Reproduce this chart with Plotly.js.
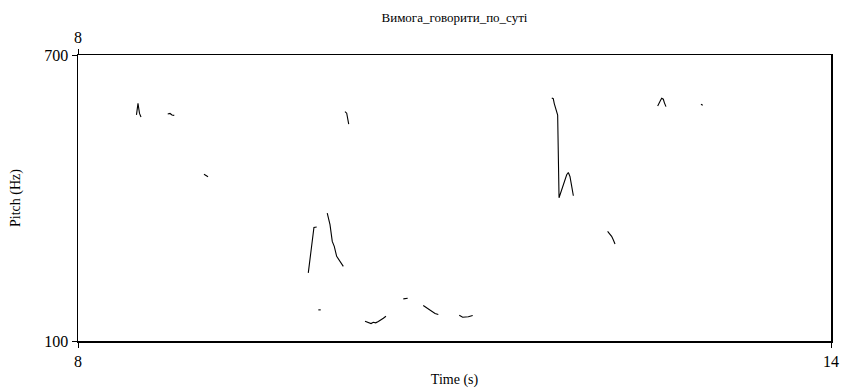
<!DOCTYPE html>
<html>
<head>
<meta charset="utf-8">
<script src="https://cdn.plot.ly/plotly-3.0.1.min.js"></script>
<style>html,body{margin:0;padding:0;background:#fff;}#chart{width:842px;height:388px;}</style>
</head>
<body>
<div id="chart"></div>
<script>
// Pitch contour (time in s, pitch in Hz); null separates voiced stretches
const timeS = [
  8.466, 8.478, 8.490, 8.502, null,
  8.715, 8.733, 8.749, 8.767, null,
  9.004, 9.020, 9.036, null,
  9.835, 9.854, 9.870, 9.880, 9.902, null,
  9.915, 9.934, null,
  9.986, 10.008, 10.026, 10.042, 10.061, 10.088, 10.114, null,
  10.127, 10.141, 10.157, null,
  10.287, 10.313, 10.335, 10.353, 10.372, 10.393, 10.414, 10.433, 10.454, null,
  10.592, 10.627, null,
  10.751, 10.778, 10.813, 10.845, 10.871, null,
  11.038, 11.065, 11.110, 11.145, null,
  11.775, 11.787, 11.795, 11.809, 11.822, 11.833, 11.854, 11.875, 11.894, 11.907, 11.920, 11.934, 11.947, null,
  12.220, 12.252, 12.265, 12.279, null,
  12.619, 12.629, 12.643, 12.651, 12.664, 12.672, 12.685, null,
  12.964, 12.978
];
const pitchHz = [
  574.3, 598.4, 577.4, 570.1, null,
  576.4, 577.4, 574.3, 573.3, null,
  449.7, 446.6, 444.5, null,
  242.8, 281.1, 323.0, 338.3, 339.1, null,
  165.3, 165.3, null,
  368.5, 344.0, 309.0, 298.5, 277.6, 267.1, 256.6, null,
  581.2, 577.9, 554.8, null,
  141.5, 138.1, 136.6, 139.4, 138.1, 140.8, 143.6, 147.7, 151.9, null,
  188.4, 189.6, null,
  174.3, 169.5, 162.4, 157.6, 155.5, null,
  154.0, 149.8, 150.7, 153.4, null,
  609.9, 608.4, 598.0, 584.2, 573.7, 400.5, 417.3, 434.6, 448.7, 453.5, 445.1, 424.2, 404.7, null,
  329.9, 319.5, 312.5, 303.5, null,
  593.2, 600.1, 605.7, 609.3, 607.2, 600.1, 591.7, null,
  596.7, 594.6
];
const xTicks = [8, 14];
const yTicks = [100, 700];
const topTicks = [8];
const titleText = "Вимога_говорити_по_суті";

const font = "Liberation Serif, Times New Roman, serif";
const trace = {
  x: timeS, y: pitchHz, type: "scatter", mode: "lines",
  connectgaps: false,
  line: {color: "#000", width: 1.1},
  hoverinfo: "skip", showlegend: false
};
const ghost = {x: [8, 14], y: [100, 100], xaxis: "x2", yaxis: "y", mode: "lines",
  line: {width: 0}, hoverinfo: "skip", showlegend: false};

const layout = {
  width: 842, height: 388,
  margin: {l: 78, r: 11, t: 55, b: 47, pad: 0},
  paper_bgcolor: "#fff", plot_bgcolor: "#fff",
  font: {family: font, color: "#000", size: 14},
  title: {text: titleText, font: {family: font, size: 13, color: "#000"},
    x: 0.5, xref: "paper", xanchor: "center", y: 1 - 17/388, yref: "container", yanchor: "middle"},
  xaxis: {
    range: [8, 14], tickvals: xTicks, ticktext: xTicks.map(String),
    showgrid: false, zeroline: false, showline: true, linecolor: "#000", linewidth: 1.5,
    mirror: true, ticks: "outside", ticklen: 5, tickwidth: 1, tickcolor: "#000",
    tickfont: {family: font, size: 16},
    title: {text: "Time (s)", font: {family: font, size: 14}, standoff: 6}
  },
  xaxis2: {
    range: [8, 14], overlaying: "x", side: "top", anchor: "y",
    tickvals: topTicks, ticktext: topTicks.map(String),
    showgrid: false, zeroline: false, showline: false,
    ticks: "outside", ticklen: 5, tickwidth: 1, tickcolor: "#000",
    tickfont: {family: font, size: 16}
  },
  yaxis: {
    range: [100, 700], tickvals: yTicks, ticktext: yTicks.map(String),
    showgrid: false, zeroline: false, showline: true, linecolor: "#000", linewidth: 1.5,
    mirror: true, ticks: "outside", ticklen: 5, tickwidth: 1, tickcolor: "#000",
    tickfont: {family: font, size: 16},
    title: {text: "Pitch (Hz)", font: {family: font, size: 14}, standoff: 20}
  }
};
Plotly.newPlot("chart", [trace, ghost], layout, {staticPlot: true, displayModeBar: false});
</script>
</body>
</html>
